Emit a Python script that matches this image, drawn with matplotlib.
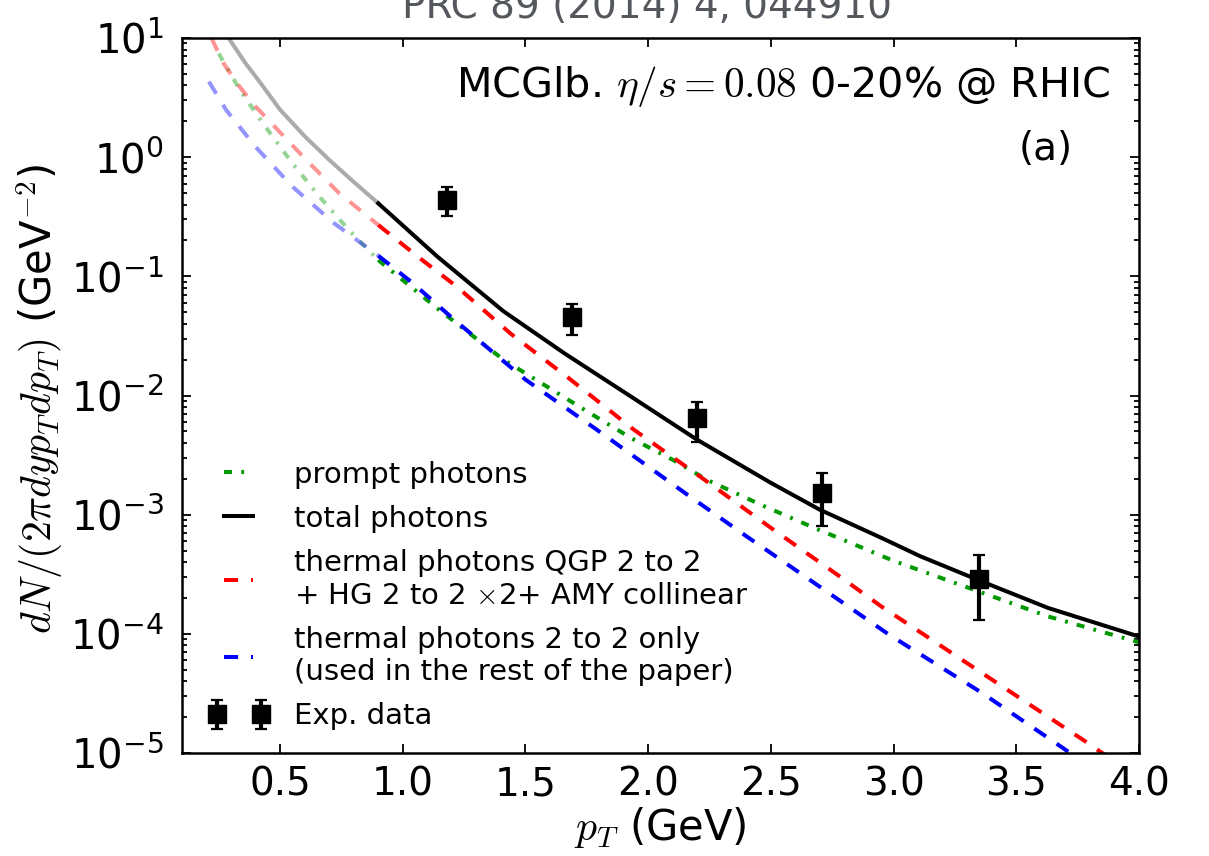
import matplotlib
matplotlib.use('Agg')
import matplotlib.pyplot as plt
from matplotlib.ticker import FixedLocator, LogLocator, NullFormatter
from matplotlib.legend_handler import HandlerErrorbar
from matplotlib.container import ErrorbarContainer
import numpy as np

plt.rcParams['font.family'] = 'DejaVu Sans'
plt.rcParams['mathtext.fontset'] = 'cm'

# --- curves (pT in GeV, yield in GeV^-2) ---
total_pt = [0.29, 0.36, 0.42, 0.5, 0.6, 0.7, 0.8, 0.9, 1.14, 1.41, 1.66, 1.93,
            2.2, 2.5, 2.7, 2.95, 3.11, 3.36, 3.63, 4.0]
total_y = [10.0, 6.1, 4.2, 2.5, 1.5, 0.95, 0.62, 0.41, 0.147, 0.051, 0.0225,
           0.0098, 0.00425, 0.00185, 0.0011, 0.00064, 0.000447, 0.000275,
           0.000165, 9.5e-5]

prompt_pt = [0.25, 0.34, 0.44, 0.55, 0.66, 0.78, 0.9, 1.14, 1.41, 1.74, 1.93,
             2.1, 2.24, 2.46, 2.68, 2.89, 3.0, 3.29, 3.63, 4.0]
prompt_y = [7.4, 3.55, 1.80, 0.889, 0.467, 0.245, 0.137, 0.054, 0.020, 0.0076,
            0.0044, 0.00289, 0.00196, 0.00121, 0.00077, 0.00051, 0.00041,
            0.00025, 0.00014, 8.5e-5]

amy_pt = [0.22, 0.27, 0.335, 0.4, 0.6, 0.74, 0.9, 1.06, 1.22, 1.44, 1.68, 1.94,
          2.21, 2.51, 2.78, 2.95, 3.36, 3.79, 3.9]
amy_y = [10.0, 6.1, 3.9, 2.66, 0.98, 0.5, 0.27, 0.147, 0.082, 0.033, 0.0138,
         0.0052, 0.0021, 0.00075, 0.000304, 0.00017, 4.7e-5, 1.22e-5, 8.5e-6]

th22_pt = [0.21, 0.28, 0.4, 0.55, 0.72, 0.9, 1.04, 1.2, 1.5, 1.81, 2.16, 2.4,
           2.57, 2.98, 3.36, 3.68, 3.8]
th22_y = [4.3, 2.49, 1.22, 0.566, 0.279, 0.149, 0.088, 0.045, 0.0136, 0.00484,
          0.00147, 0.00066, 0.00038, 9.9e-5, 3.2e-5, 1.14e-5, 7.7e-6]

# experimental points
exp_pt = [1.18, 1.69, 2.20, 2.71, 3.35]
exp_y = [0.44, 0.046, 0.0065, 0.00152, 0.00029]
exp_hi = [0.56, 0.059, 0.0089, 0.00224, 0.00046]
exp_lo = [0.32, 0.032, 0.0041, 0.00081, 0.00013]

pt_cut = 0.9

fig = plt.figure(figsize=(12.09, 8.56), dpi=100)
ax = fig.add_axes([0.1505, 0.1203, 0.7915, 0.8353])


def draw(pt, y, color, lw, dashes=None, label=None, fade=0.42):
    pt = np.array(pt)
    y = np.array(y)
    lo = pt <= pt_cut
    hi = pt >= pt_cut
    kw = dict(color=color, lw=lw)
    if dashes is not None:
        kw['dashes'] = dashes
    ax.plot(pt[lo], y[lo], alpha=fade, **kw)
    line, = ax.plot(pt[hi], y[hi], label=label, **kw)
    return line


green = '#009a00'
lw = 2.9
h_prompt = draw(prompt_pt, prompt_y, green, lw, dashes=(2.0, 2.3, 0.7, 2.3),
                label='prompt photons')
h_amy = draw(amy_pt, amy_y, '#ff0000', lw, dashes=(3.5, 3.2),
             label='thermal photons QGP 2 to 2\n+ HG 2 to 2 $\\times$2+ AMY collinear')
h_th = draw(th22_pt, th22_y, '#0000ff', lw, dashes=(3.5, 3.2),
            label='thermal photons 2 to 2 only\n(used in the rest of the paper)')
h_tot = draw(total_pt, total_y, 'k', lw, label='total photons', fade=0.33)

exp_y_arr = np.array(exp_y)
yerr = [exp_y_arr - np.array(exp_lo), np.array(exp_hi) - exp_y_arr]
h_exp = ax.errorbar(exp_pt, exp_y, yerr=yerr, fmt='s', color='k', ms=12.5,
                    elinewidth=3, capsize=4.5, capthick=1.6, label='Exp. data')

ax.set_yscale('log')
ax.set_xlim(0.1, 4.0)
ax.set_ylim(1e-5, 10)

ax.xaxis.set_major_locator(FixedLocator([0.5, 1.0, 1.5, 2.0, 2.5, 3.0, 3.5, 4.0]))
ax.set_xticklabels(['0.5', '1.0', '1.5', '2.0', '2.5', '3.0', '3.5', '4.0'])
ax.yaxis.set_major_locator(LogLocator(base=10, numticks=20))
ax.yaxis.set_minor_locator(LogLocator(base=10, subs=np.arange(2, 10), numticks=20))
ax.yaxis.set_minor_formatter(NullFormatter())

ax.tick_params(which='both', direction='in', top=True, right=True, width=1.3)
ax.tick_params(which='major', length=6.5)
ax.tick_params(which='minor', length=3.5)
ax.tick_params(axis='x', which='major', labelsize=28, pad=9)
ax.tick_params(axis='y', which='major', labelsize=29, pad=13)
for s in ax.spines.values():
    s.set_linewidth(1.8)

leg = ax.legend(handles=[h_prompt, h_tot, h_amy, h_th, h_exp], loc='upper left',
                bbox_to_anchor=(0.035, 0.409), frameon=False, fontsize=21,
                borderpad=0, borderaxespad=0, handlelength=1.6,
                handletextpad=1.1, labelspacing=0.55, numpoints=2,
                handler_map={ErrorbarContainer: HandlerErrorbar(marker_pad=0.05)})
for t in leg.get_texts():
    t.set_linespacing(1.22)

ax.text(0.970, 0.9175, 'MCGlb. $\\eta/s=0.08$ 0-20% @ RHIC', transform=ax.transAxes,
        ha='right', va='baseline', fontsize=29.7)
ax.text(0.931, 0.829, '(a)', transform=ax.transAxes, ha='right', va='baseline',
        fontsize=28)

fig.text(660 / 1209, 1 - 828 / 856, '$p_T$ (GeV)', ha='center', va='center',
         fontsize=30)
fig.text(40 / 1209, 1 - 399 / 856, '$dN/(2\\pi dyp_T dp_T)$ (GeV$^{-2}$)',
         ha='center', va='center', rotation=90, fontsize=30)
fig.text(647 / 1209, 1 - 18 / 856, 'PRC 89 (2014) 4, 044910', ha='center',
         va='baseline', fontsize=28, color='#54585d')

fig.savefig('out.png', dpi=100)
